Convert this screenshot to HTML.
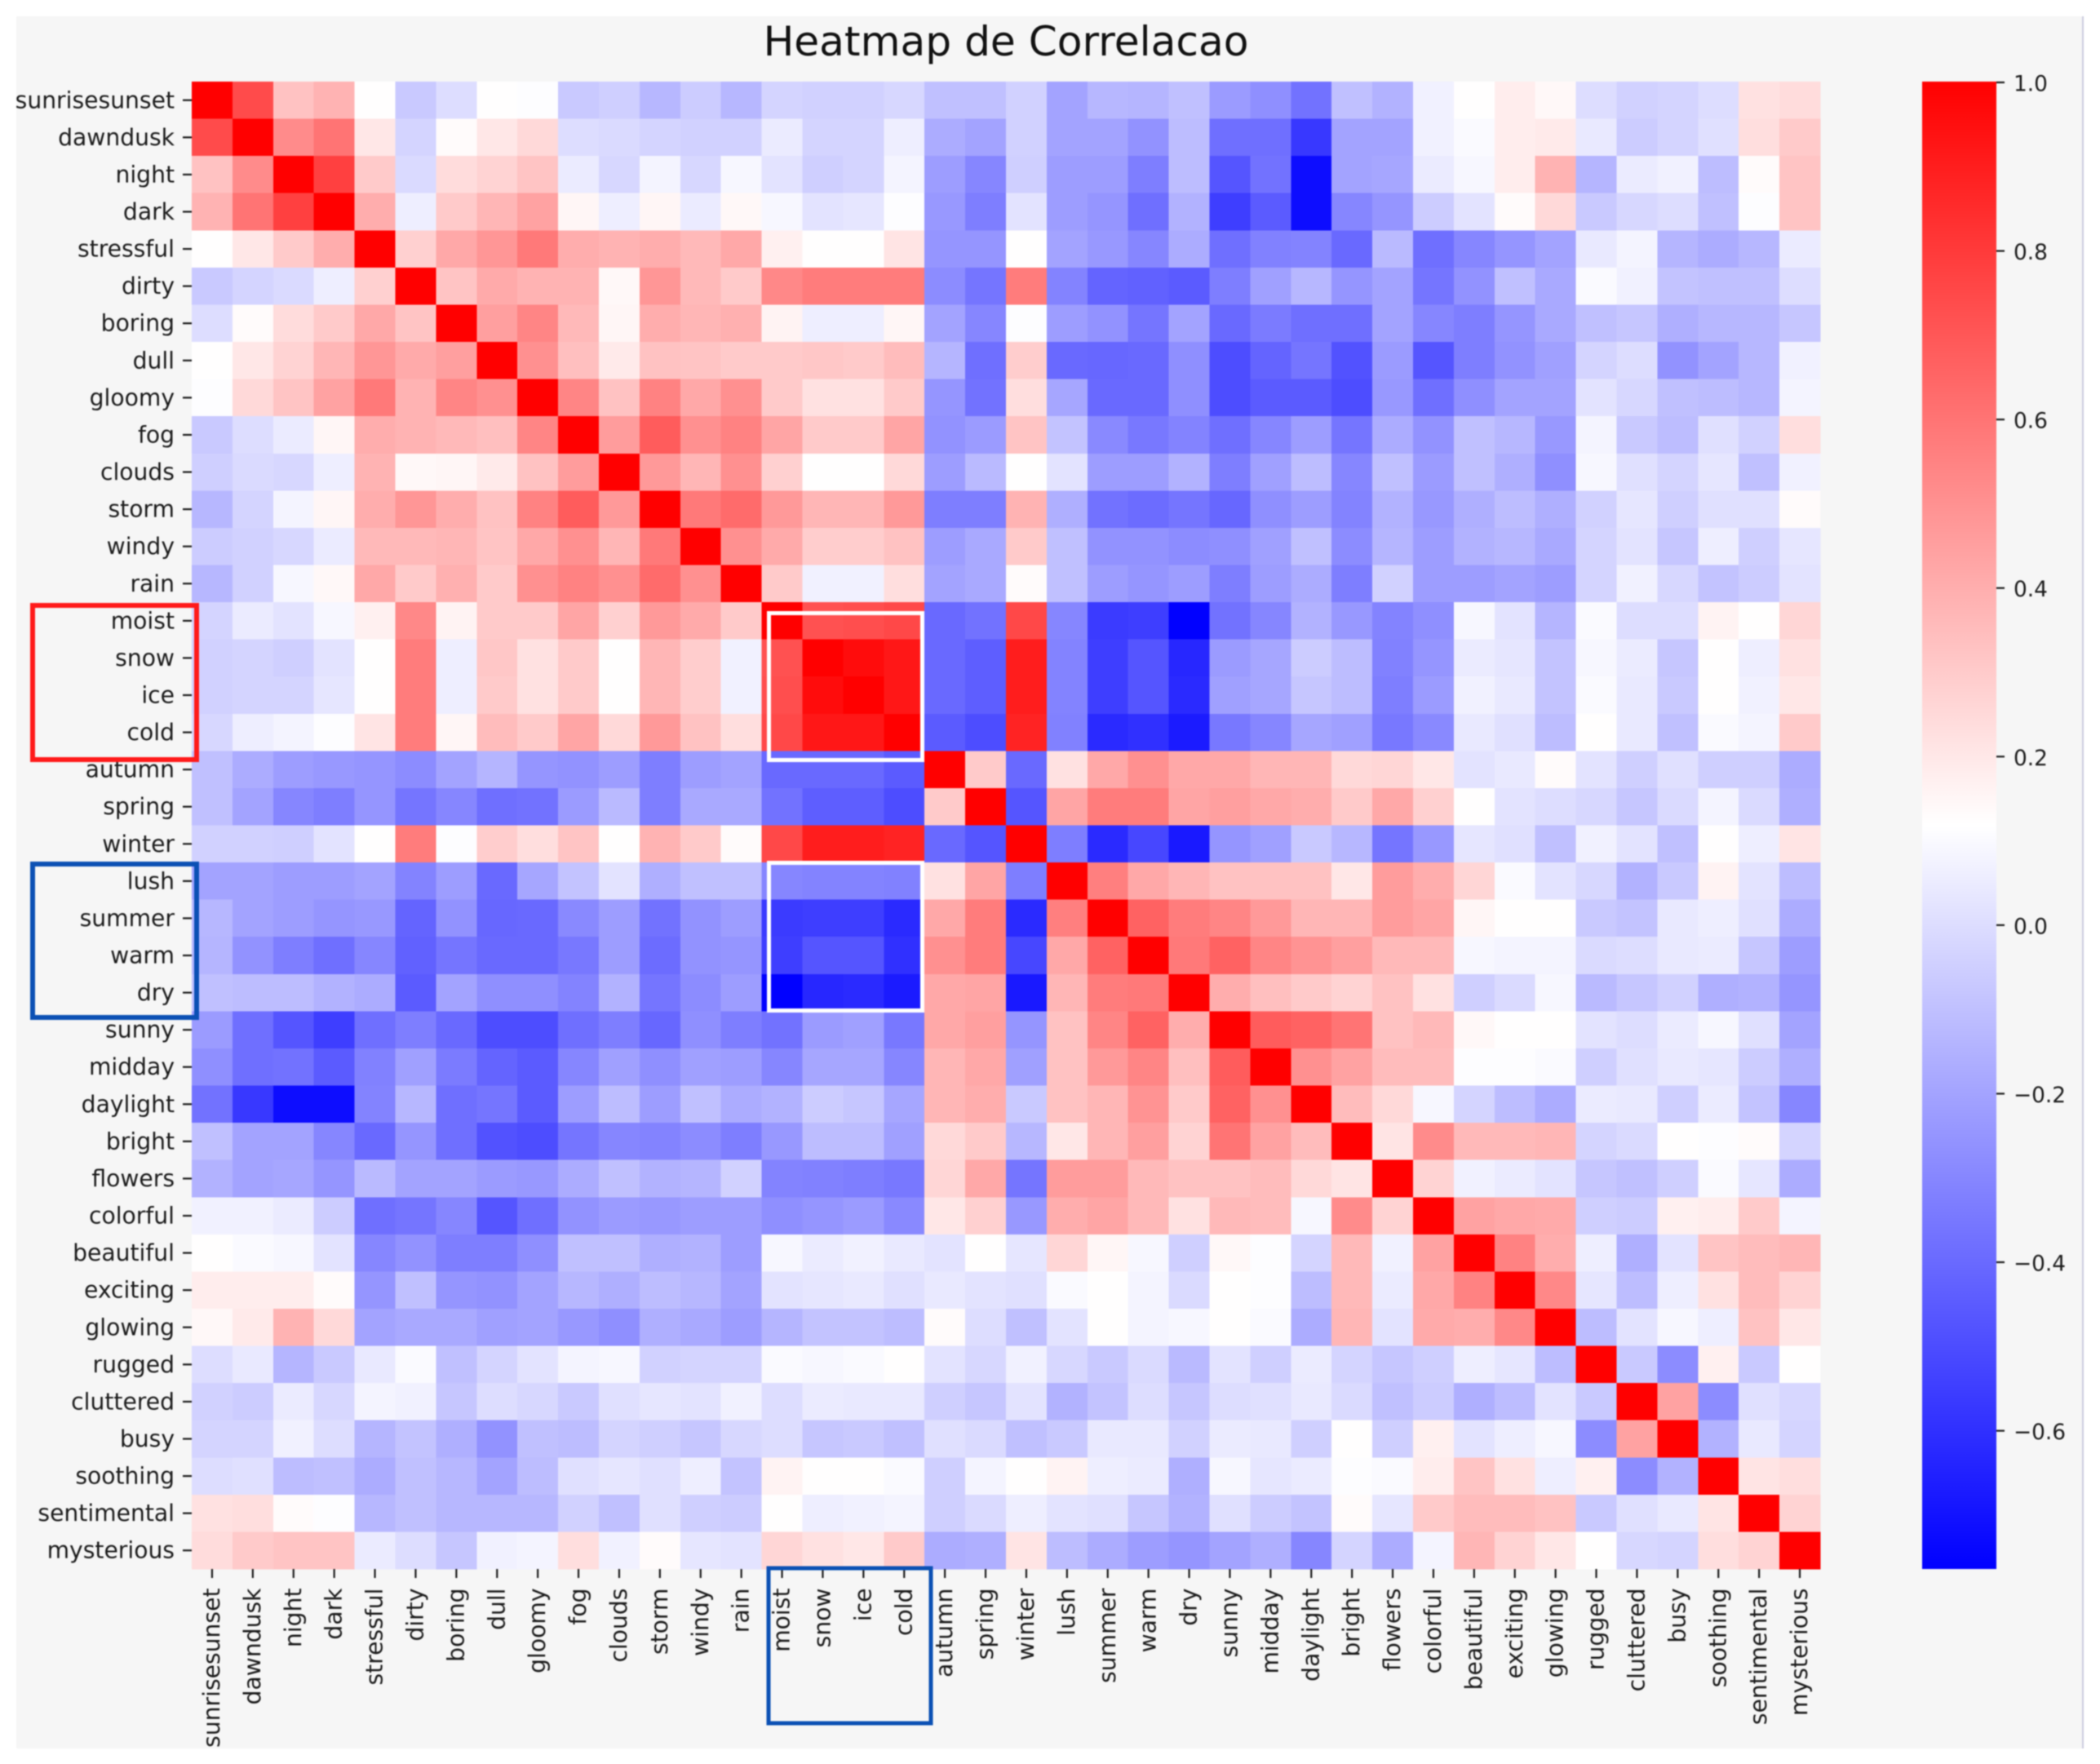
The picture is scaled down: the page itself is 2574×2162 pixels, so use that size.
<!DOCTYPE html>
<html lang="en">
<head>
<meta charset="utf-8">
<title>Heatmap de Correlacao</title>
<style>
html,body{margin:0;padding:0;background:#fff;width:2574px;height:2162px;overflow:hidden}
svg{display:block;filter:blur(0.9px)}
text{font-family:"DejaVu Sans","Liberation Sans",sans-serif;fill:#1c1c1c}
</style>
</head>
<body>
<svg id="chart" xmlns="http://www.w3.org/2000/svg" width="2574" height="2162" viewBox="0 0 2574 2162">
  <defs>
    <linearGradient id="bwr" x1="0" y1="0" x2="0" y2="1">
      <stop offset="0" stop-color="#ff0000"/>
      <stop offset="0.5" stop-color="#ffffff"/>
      <stop offset="1" stop-color="#0000ff"/>
    </linearGradient>
  </defs>
  <rect x="20" y="20" width="2533" height="2123" fill="#f6f6f6"/>
  <rect x="2552" y="20" width="2" height="2123" fill="#ccccdf"/>
  <text x="1233" y="68" font-size="50.2" text-anchor="middle" style="fill:#111">Heatmap de Correlacao</text>
  <g id="cells" shape-rendering="crispEdges"></g>
  <g id="yticks"></g>
  <g id="xticks"></g>
  <rect x="2356" y="100" width="91" height="1823" fill="url(#bwr)"/>
  <g id="cbticks"></g>
  <rect x="942.5" y="751.5" width="188" height="180" fill="none" stroke="#ffffff" stroke-width="5"/>
  <rect x="942.5" y="1057.5" width="188" height="181" fill="none" stroke="#ffffff" stroke-width="5"/>
  <rect x="40" y="742" width="201" height="189" fill="none" stroke="#ff1a1a" stroke-width="6"/>
  <rect x="40" y="1059" width="201" height="188" fill="none" stroke="#0b50b4" stroke-width="6"/>
  <rect x="942" y="1922" width="199" height="190" fill="none" stroke="#0b50b4" stroke-width="5"/>
</svg>
<script>
const categories = ["sunrisesunset","dawndusk","night","dark","stressful","dirty","boring","dull","gloomy","fog","clouds","storm","windy","rain","moist","snow","ice","cold","autumn","spring","winter","lush","summer","warm","dry","sunny","midday","daylight","bright","flowers","colorful","beautiful","exciting","glowing","rugged","cluttered","busy","soothing","sentimental","mysterious"];
const colorbarTicks = [1.0,0.8,0.6,0.4,0.2,0.0,-0.2,-0.4,-0.6];
const colorbarTickLabels = ["1.0","0.8","0.6","0.4","0.2","0.0","\u22120.2","\u22120.4","\u22120.6"];

/* Upper triangle of the correlation matrix: each row starts at its diagonal cell. */
const rowSunrisesunset = [1,.74,.33,.38,.12,-.07,0,.12,.11,-.07,-.05,-.13,-.06,-.13,-.03,-.04,-.04,-.02,-.1,-.1,-.04,-.2,-.13,-.14,-.1,-.23,-.27,-.37,-.1,-.15,.07,.12,.18,.14,0,-.04,-.03,0,.22,.24];
const rowDawndusk = [1,.52,.6,.2,-.03,.13,.2,.25,0,-.01,-.03,-.04,-.04,.05,-.03,-.03,.06,-.17,-.2,-.04,-.2,-.2,-.26,-.11,-.38,-.38,-.57,-.2,-.2,.07,.1,.18,.19,.04,-.06,-.03,.01,.23,.3];
const rowNight = [1,.78,.3,-.01,.24,.27,.32,.05,-.02,.08,-.02,.09,.02,-.05,-.03,.08,-.22,-.3,-.05,-.22,-.22,-.33,-.11,-.47,-.37,-.72,-.2,-.19,.05,.09,.18,.38,-.14,.05,.07,-.11,.13,.32];
const rowDark = [1,.4,.06,.3,.37,.44,.15,.06,.15,.05,.14,.09,.02,.03,.11,-.24,-.33,.02,-.22,-.25,-.38,-.15,-.55,-.45,-.72,-.3,-.25,-.06,.02,.13,.25,-.07,-.02,0,-.1,.11,.32];
const rowStressful = [1,.28,.42,.48,.58,.4,.38,.4,.36,.42,.17,.12,.12,.21,-.25,-.25,.12,-.2,-.24,-.3,-.17,-.38,-.32,-.31,-.4,-.12,-.38,-.3,-.25,-.2,.04,.08,-.14,-.17,-.13,.05];
const rowDirty = [1,.32,.41,.38,.38,.14,.48,.36,.3,.53,.57,.57,.57,-.28,-.36,.57,-.31,-.42,-.43,-.45,-.33,-.21,-.13,-.25,-.2,-.36,-.26,-.1,-.18,.1,.07,-.09,-.1,-.1,0];
const rowBoring = [1,.45,.54,.36,.15,.4,.37,.39,.16,.06,.06,.15,-.2,-.3,.11,-.22,-.26,-.36,-.2,-.4,-.34,-.38,-.38,-.2,-.3,-.33,-.25,-.18,-.1,-.08,-.16,-.13,-.13,-.08];
const rowDull = [1,.5,.34,.19,.33,.32,.3,.3,.31,.3,.35,-.14,-.38,.29,-.4,-.41,-.4,-.27,-.5,-.42,-.36,-.48,-.23,-.47,-.33,-.26,-.21,-.03,0,-.26,-.2,-.13,.07];
const rowGloomy = [1,.54,.33,.55,.42,.5,.3,.22,.22,.3,-.25,-.37,.23,-.19,-.4,-.4,-.27,-.5,-.45,-.45,-.5,-.24,-.38,-.27,-.2,-.2,.02,-.02,-.1,-.11,-.13,.08];
const rowFog = [1,.46,.68,.5,.55,.43,.3,.3,.43,-.26,-.23,.32,-.09,-.29,-.35,-.31,-.38,-.3,-.22,-.36,-.17,-.26,-.1,-.13,-.24,.08,-.07,-.11,.01,-.04,.23];
const rowClouds = [1,.47,.37,.5,.28,.12,.12,.25,-.22,-.12,.12,.02,-.22,-.22,-.15,-.33,-.21,-.11,-.3,-.1,-.23,-.1,-.16,-.27,.09,.01,-.03,.03,-.1,.07];
const rowStorm = [1,.58,.63,.47,.37,.37,.47,-.33,-.33,.38,-.16,-.37,-.39,-.36,-.41,-.27,-.22,-.31,-.15,-.24,-.16,-.11,-.16,-.04,.03,-.05,.01,.01,.13];
const rowWindy = [1,.5,.41,.29,.29,.33,-.22,-.18,.3,-.1,-.26,-.26,-.28,-.27,-.21,-.1,-.28,-.14,-.22,-.15,-.13,-.18,-.03,.02,-.08,.06,-.05,.03];
const rowRain = [1,.3,.07,.07,.23,-.2,-.18,.13,-.1,-.22,-.25,-.22,-.33,-.22,-.17,-.33,-.04,-.22,-.22,-.2,-.22,-.03,.07,-.02,-.09,-.06,.02];
const rowMoist = [1,.72,.73,.75,-.4,-.37,.75,-.3,-.56,-.55,-.76,-.37,-.3,-.15,-.24,-.31,-.27,.09,.02,-.14,.1,0,0,.16,.12,.26];
const rowSnow = [1,.96,.92,-.4,-.44,.9,-.31,-.55,-.47,-.63,-.23,-.19,-.06,-.11,-.32,-.25,.05,.03,-.09,.09,.05,-.08,.12,.06,.22];
const rowIce = [1,.92,-.4,-.44,.9,-.31,-.55,-.47,-.62,-.21,-.19,-.08,-.11,-.33,-.23,.07,.04,-.09,.1,.04,-.07,.12,.07,.2];
const rowCold = [1,-.45,-.5,.88,-.32,-.62,-.6,-.67,-.35,-.3,-.19,-.21,-.35,-.29,.04,.01,-.11,.12,.04,-.1,.1,.08,.3];
const rowAutumn = [1,.3,-.4,.22,.42,.5,.42,.42,.37,.37,.25,.26,.2,.02,.04,.13,.02,-.05,.01,-.05,-.05,-.17];
const rowSpring = [1,-.47,.43,.57,.57,.43,.45,.42,.4,.3,.42,.28,.12,.02,0,-.02,-.08,-.01,.08,-.01,-.16];
const rowWinter = [1,-.33,-.62,-.52,-.68,-.25,-.21,-.07,-.13,-.36,-.24,.03,.01,-.1,.07,.02,-.1,.12,.06,.21];
const rowLush = [1,.56,.42,.37,.33,.33,.33,.2,.46,.4,.26,.1,.02,-.02,-.15,-.07,.16,.02,-.11];
const rowSummer = [1,.66,.57,.54,.47,.37,.37,.46,.43,.15,.12,.12,-.07,-.09,.04,.06,.01,-.17];
const rowWarm = [1,.58,.66,.54,.49,.45,.36,.36,.09,.08,.08,-.01,0,.04,.05,-.08,-.22];
const rowDry = [1,.4,.34,.3,.27,.33,.22,-.05,-.01,.09,-.12,-.08,-.04,-.16,-.15,-.25];
const rowSunny = [1,.68,.66,.6,.33,.36,.14,.12,.12,.02,0,.05,.09,.01,-.2];
const rowMidday = [1,.5,.44,.35,.35,.11,.11,.1,-.05,.01,.04,.03,-.06,-.16];
const rowDaylight = [1,.35,.25,.09,-.03,-.11,-.17,.05,.04,-.05,.05,-.09,-.3];
const rowBright = [1,.21,.52,.36,.36,.37,-.03,-.01,.12,.11,.13,-.03];
const rowFlowers = [1,.27,.07,.05,.02,-.08,-.1,-.05,.1,.03,-.17];
const rowColorful = [1,.44,.42,.41,-.05,-.06,.17,.18,.3,.08];
const rowBeautiful = [1,.55,.4,.06,-.16,.02,.32,.35,.37];
const rowExciting = [1,.53,.03,-.11,.06,.22,.35,.27];
const rowGlowing = [1,-.11,.02,.09,.06,.33,.2];
const rowRugged = [1,-.07,-.28,.17,-.07,.12];
const rowCluttered = [1,.44,-.28,.01,-.02];
const rowBusy = [1,-.15,.04,-.03];
const rowSoothing = [1,.21,.23];
const rowSentimental = [1,.27];
const rowMysterious = [1];
const upperRows = [rowSunrisesunset,rowDawndusk,rowNight,rowDark,rowStressful,rowDirty,rowBoring,rowDull,rowGloomy,rowFog,rowClouds,rowStorm,rowWindy,rowRain,rowMoist,rowSnow,rowIce,rowCold,rowAutumn,rowSpring,rowWinter,rowLush,rowSummer,rowWarm,rowDry,rowSunny,rowMidday,rowDaylight,rowBright,rowFlowers,rowColorful,rowBeautiful,rowExciting,rowGlowing,rowRugged,rowCluttered,rowBusy,rowSoothing,rowSentimental,rowMysterious];

const SVG_NS = "http://www.w3.org/2000/svg";
const plot = {left:235, top:100, width:1996, height:1823};
const bar = {top:100, height:1823, right:2447};
const colorMin = -0.765;
const colorMax = 1.0;
const n = categories.length;

function xScale(i){ return plot.left + i * plot.width / n; }
function yScale(i){ return plot.top + i * plot.height / n; }
function barScale(v){ return bar.top + (colorMax - v) / (colorMax - colorMin) * bar.height; }
function bwr(v){
  const mid = (colorMax + colorMin) / 2;
  const half = (colorMax - colorMin) / 2;
  const s = Math.max(-1, Math.min(1, (v - mid) / half));
  const k = Math.round(255 * (1 - Math.abs(s)));
  return s >= 0 ? "rgb(255," + k + "," + k + ")" : "rgb(" + k + "," + k + ",255)";
}
function valueAt(r, c){
  const a = Math.min(r, c), b = Math.max(r, c);
  return upperRows[a][b - a];
}
function make(tag, attrs, parent){
  const el = document.createElementNS(SVG_NS, tag);
  for (const k in attrs) el.setAttribute(k, attrs[k]);
  parent.appendChild(el);
  return el;
}

const cellsGroup = document.getElementById("cells");
const yGroup = document.getElementById("yticks");
const xGroup = document.getElementById("xticks");
const cbGroup = document.getElementById("cbticks");

for (let r = 0; r < n; r++) {
  for (let c = 0; c < n; c++) {
    const x0 = xScale(c), x1 = xScale(c + 1), y0 = yScale(r), y1 = yScale(r + 1);
    const cell = make("rect", {x:x0, y:y0, width:x1 - x0 + 0.5, height:y1 - y0 + 0.5, fill:bwr(valueAt(r, c))}, cellsGroup);
    
    
  }
}

categories.forEach(function(label, i){
  const yc = yScale(i + 0.5);
  const xc = xScale(i + 0.5);

  const yTick = make("line", {x1:224, x2:plot.left, y1:yc, y2:yc, stroke:"#1c1c1c", "stroke-width":2.2}, yGroup);
  
  

  const yLabel = make("text", {x:214, y:yc + 9.5, "font-size":28.2, "text-anchor":"end"}, yGroup);
  yLabel.textContent = label;
  
  

  const xTick = make("line", {x1:xc, x2:xc, y1:plot.top + plot.height, y2:1934, stroke:"#1c1c1c", "stroke-width":2.2}, xGroup);
  
  

  const xLabel = make("text", {transform:"translate(" + (xc + 9) + ",1946.5) rotate(-90)", "font-size":28.2, "text-anchor":"end"}, xGroup);
  xLabel.textContent = label;
  
  
});

colorbarTicks.forEach(function(v, i){
  const y = barScale(v);
  const tick = make("line", {x1:bar.right, x2:bar.right + 10, y1:y + 1, y2:y + 1, stroke:"#1c1c1c", "stroke-width":2.2}, cbGroup);
  
  

  const label = make("text", {x:bar.right + 21, y:y + 11.5, "font-size":26.4}, cbGroup);
  label.textContent = colorbarTickLabels[i];
  
  
});
</script>
</body>
</html>
